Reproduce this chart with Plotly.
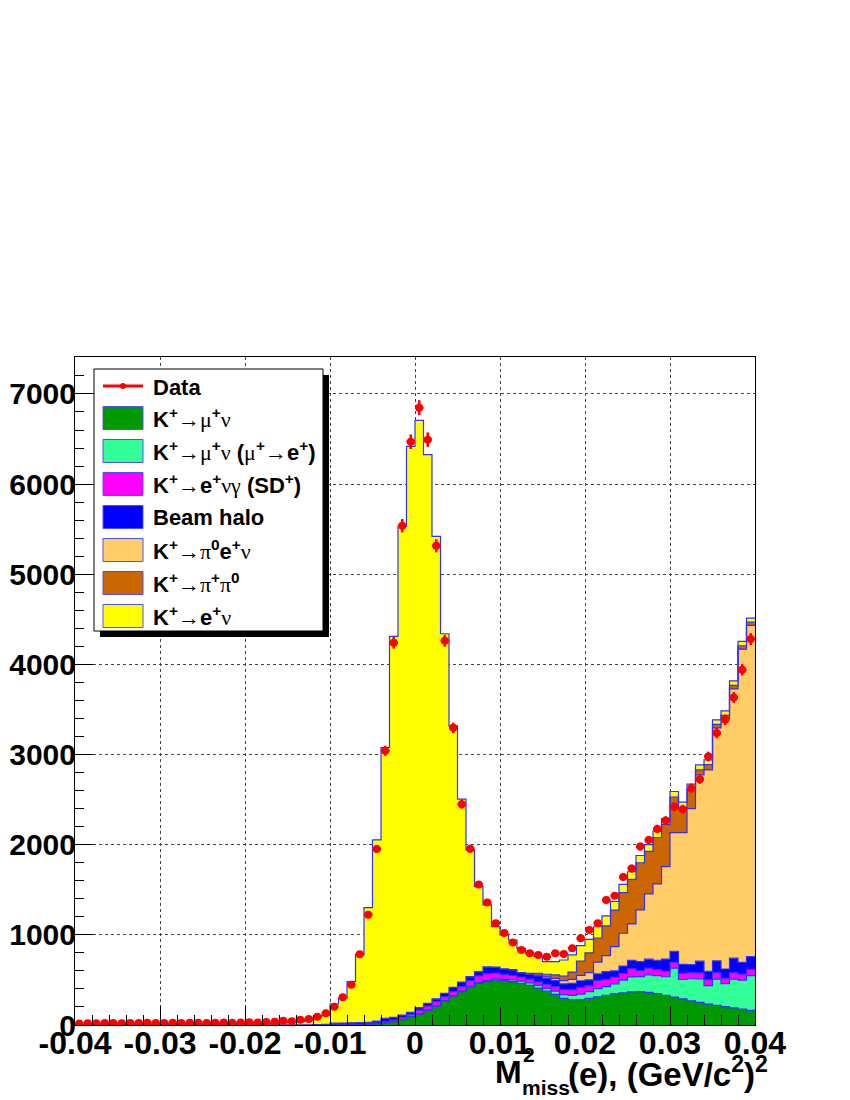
import numpy as np
import plotly.graph_objects as go

# 80 bins of 0.001 from -0.04 to 0.04
edges = np.round(np.linspace(-0.04, 0.04, 81), 4)
centers = (edges[:-1] + edges[1:]) / 2

data = [18, 20, 19, 22, 21, 20, 23, 22, 24, 21, 23, 25, 22, 24, 26, 23, 25, 27, 26, 28, 30, 29, 33,
        37, 48, 41, 59, 67, 92, 130, 203, 307, 447, 785, 1224, 1953, 3041,
        4240, 5538, 6470, 6848, 6493, 5316, 4262, 3296, 2450, 1955, 1558, 1358, 1130, 1020,
        915, 832, 796, 777, 758, 796, 788, 851, 962, 1054, 1129, 1387, 1435, 1642,
        1737, 1979, 2053, 2175, 2268, 2420, 2394, 2627, 2727, 2978, 3238, 3385, 3633, 3940, 4281]

k_munu = [0] * 30 + [2, 3, 5, 8, 10, 15, 22, 37, 63, 92, 122, 166, 211, 270, 322, 370, 425, 462, 481, 499,
                     492, 481, 462, 440, 410, 375, 340, 295, 280, 282, 295, 312, 330, 345, 358, 368, 370, 362,
                     348, 330, 310, 290, 268, 250, 232, 218, 203, 190, 176, 162]

k_munu_mue = [0] * 40 + [1, 1, 2, 2, 3, 5, 5, 8, 12, 12, 14, 18, 25, 28, 30, 32, 35, 42, 48, 60,
                         75, 92, 95, 110, 140, 165, 166, 195, 200, 205, 320, 215, 245, 262, 205, 290,
                         255, 318, 322, 385]

k_sd = [0] * 30 + [1, 2, 2, 2, 3, 5, 13, 18, 22, 26, 43, 44, 47, 42, 45, 50, 62, 74, 78, 65,
                   55, 50, 45, 40, 38, 45, 50, 55, 62, 75, 65, 90, 82, 75, 75, 93, 67, 74,
                   66, 63, 66, 67, 67, 67, 66, 74, 63, 74, 67, 71]

beam_halo = [1] * 27 + [3, 5, 8, 17, 17, 18, 18, 17, 24, 39, 30, 26, 23, 26, 29, 30, 37, 48, 52, 44,
                        48, 74, 66, 63, 66, 48, 55, 66, 66, 67, 65, 72, 74, 66, 74, 85, 70, 81, 92,
                        100, 99, 104, 133, 122, 100, 89, 129, 93, 129, 100, 159, 129, 140]

k_pi0enu = [0] * 53 + [5, 10, 15, 25, 35, 45, 60, 80, 130, 178, 270, 364, 403, 573, 724, 847, 1026,
                       1317, 1463, 1731, 2067, 2233, 2584, 2774, 2987, 3475, 3676]

k_pipi0 = [0] * 53 + [5, 20, 30, 40, 50, 80, 159, 219, 267, 330, 405, 450, 494, 524, 471, 515, 468,
                      392, 277, 215, 55, 60, 40, 40, 40, 38, 35]

k_enu = [6, 6, 7, 7, 7, 8, 8, 8, 9, 9, 10, 10, 10, 11, 11, 12, 12, 13, 13, 14, 15, 16, 17,
         18, 22, 27, 35, 50, 80, 100, 213, 274, 456, 749, 1272, 2009, 3004,
         4225, 5420, 6277, 6515, 6086, 5130, 3989, 2901, 2028, 1406, 943, 687, 449, 375,
         328, 271, 223, 184, 140, 146, 179, 190, 170, 150, 125, 110, 95, 92,
         85, 80, 75, 70, 65, 63, 60, 58, 55, 52, 50, 50, 50, 48, 45]

labels = [
    "K<sup>+</sup>{a}{mu}<sup>+</sup>{nu}",
    "K<sup>+</sup>{a}{mu}<sup>+</sup>{nu} ({mu}<sup>+</sup>{a}e<sup>+</sup>)",
    "K<sup>+</sup>{a}e<sup>+</sup>{nu}{ga} (SD<sup>+</sup>)",
    "Beam halo",
    "K<sup>+</sup>{a}{pi}<sup>0</sup>e<sup>+</sup>{nu}",
    "K<sup>+</sup>{a}{pi}<sup>+</sup>{pi}<sup>0</sup>",
    "K<sup>+</sup>{a}e<sup>+</sup>{nu}",
]
layers = [k_munu, k_munu_mue, k_sd, beam_halo, k_pi0enu, k_pipi0, k_enu]
colors = ["#009a00", "#33ff99", "#ff00ff", "#0000ff", "#ffcc66", "#cc6600", "#ffff00"]
edge_col = "#3030ff"

xticks = [-0.04, -0.03, -0.02, -0.01, 0, 0.01, 0.02, 0.03, 0.04]
xtick_text = ["-0.04", "-0.03", "-0.02", "-0.01", "0", "0.01", "0.02", "0.03", "0.04"]

FONT = "Liberation Sans"
sym = '<span style="font-family:Liberation Serif;font-weight:normal">{}</span>'
greek = dict(a=sym.format("→"), mu=sym.format("μ"), nu=sym.format("ν"),
             ga=sym.format("γ"), pi=sym.format("π"))

# the page body has an 8px margin, so work in page pixels and shift
OFF = 8
W, H = 850 - OFF, 1100 - OFF
L, R, T, B = 75, 755, 357, 1025


def px(x):
    return (x - L) / (R - L)


def py(y):
    return (B - y) / (B - T)


fig = go.Figure()

cum = np.zeros(80)
for i, (vals, col) in enumerate(zip(layers, colors)):
    cum = cum + np.array(vals)
    fig.add_trace(go.Scatter(
        x=edges, y=np.append(cum, cum[-1]),
        mode="lines", line=dict(shape="hv", color=edge_col, width=1.2),
        fill="tozeroy" if i == 0 else "tonexty", fillcolor=col,
        hoverinfo="skip", showlegend=False,
    ))

data = np.array(data)
fig.add_trace(go.Scatter(
    x=centers, y=data, mode="markers",
    marker=dict(color="#ff0000", size=8),
    error_y=dict(type="data", array=np.sqrt(data), color="#ff0000", thickness=2.5, width=0),
    error_x=dict(type="constant", value=0.0005, color="#ff0000", thickness=2.5, width=0),
    showlegend=False,
))

# hand-made legend box with shadow
shapes = [
    dict(type="rect", xref="paper", yref="paper", x0=px(100), x1=px(329), y0=py(637), y1=py(375),
         fillcolor="black", line=dict(width=0)),
    dict(type="rect", xref="paper", yref="paper", x0=px(94), x1=px(323), y0=py(631), y1=py(369),
         fillcolor="white", line=dict(color="black", width=1)),
    dict(type="line", xref="paper", yref="paper", x0=px(103), x1=px(143), y0=py(386), y1=py(386),
         line=dict(color="#ff0000", width=3)),
    dict(type="circle", xref="paper", yref="paper", x0=px(120), x1=px(126), y0=py(389), y1=py(383),
         fillcolor="#ff0000", line=dict(color="#ff0000", width=0)),
]
leg_font = dict(family=FONT, size=22, color="black")
annotations = [dict(text="<b>Data</b>", x=px(151), y=py(387), xref="paper", yref="paper",
                    xanchor="left", yanchor="middle", showarrow=False, font=leg_font)]
for k, (lab, col) in enumerate(zip(labels, colors)):
    yc = 418 + 33 * k
    shapes.append(dict(type="rect", xref="paper", yref="paper", x0=px(103), x1=px(143),
                       y0=py(yc + 11.5), y1=py(yc - 11.5), fillcolor=col,
                       line=dict(color="#5050ff", width=1)))
    annotations.append(dict(text="<b>" + lab.format(**greek) + "</b>", x=px(151), y=py(yc),
                            xref="paper", yref="paper", xanchor="left", yanchor="middle",
                            showarrow=False, font=leg_font))

# x axis title, built from pieces so the 2 and "miss" stack
title_font = dict(family=FONT, size=32, color="black", weight="bold")
small_font = dict(family=FONT, size=21, color="black", weight="bold")
annotations += [
    dict(text="M", x=px(493), y=py(1072), font=title_font),
    dict(text="2", x=px(521), y=py(1054), font=small_font),
    dict(text="miss", x=px(520), y=py(1087), font=small_font),
    dict(text="(e), (GeV/c<sup>2</sup>)<sup>2</sup>", x=px(566), y=py(1072),
         font=dict(family=FONT, size=33, color="black", weight="bold")),
]
for a in annotations[-4:]:
    a.update(xref="paper", yref="paper", xanchor="left", yanchor="middle", showarrow=False)

fig.update_layout(
    width=W, height=H,
    margin=dict(l=L - OFF, r=W - (R - OFF), t=T - OFF, b=H - (B - OFF)),
    plot_bgcolor="white", paper_bgcolor="white",
    shapes=shapes, annotations=annotations,
    showlegend=False,
)
fig.update_xaxes(
    range=[-0.04, 0.04], tickvals=xticks, ticktext=xtick_text, automargin=False,
    ticks="inside", ticklen=19, tickwidth=1, tickcolor="black", ticklabelstandoff=-10,
    minor=dict(dtick=0.002, tick0=-0.04, ticks="inside", ticklen=10, tickcolor="black", showgrid=False),
    showline=True, linecolor="black", linewidth=1, mirror=True,
    showgrid=True, gridcolor="#444444", griddash="dot", gridwidth=1,
    zeroline=False,
    tickfont=dict(family=FONT, size=32, color="black", weight="bold"),
)
fig.update_yaxes(
    range=[0, 7410], dtick=1000, tick0=0, automargin=False,
    ticks="inside", ticklen=18, tickwidth=1, tickcolor="black", ticklabelstandoff=-8,
    minor=dict(dtick=200, ticks="inside", ticklen=9, tickcolor="black", showgrid=False),
    showline=True, linecolor="black", linewidth=1, mirror=True,
    showgrid=True, gridcolor="#444444", griddash="dot", gridwidth=1,
    zeroline=False,
    tickfont=dict(family=FONT, size=30, color="black", weight="bold"),
)

fig.write_html("out.html")
